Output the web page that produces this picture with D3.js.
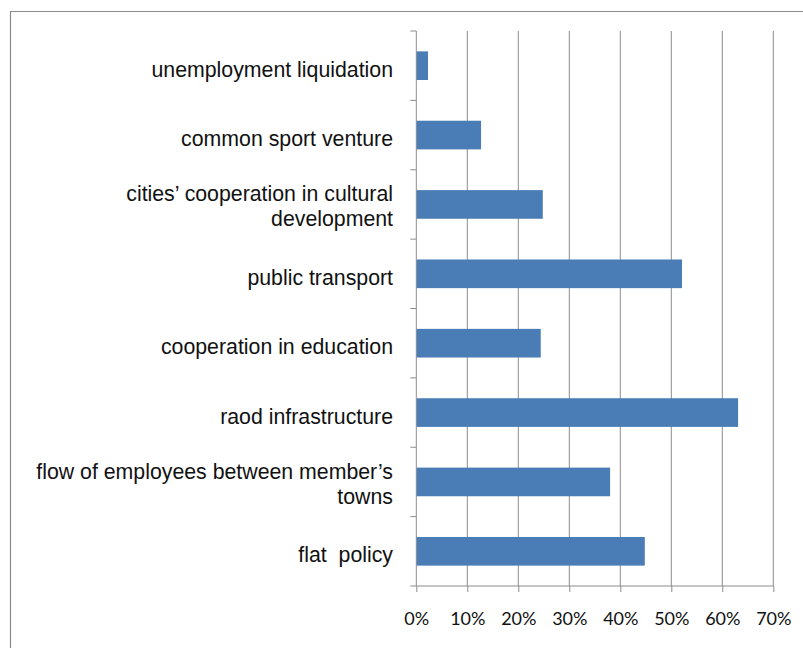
<!DOCTYPE html>
<html>
<head>
<meta charset="utf-8">
<script src="https://cdn.jsdelivr.net/npm/d3@7"></script>
<style>
  html, body { margin: 0; padding: 0; background: #fff; }
  svg { display: block; }
</style>
</head>
<body>
<svg id="chart" width="803" height="648"></svg>
<script>
// Areas of cooperation between member towns, share of answers (%)
const categories = [
  "unemployment liquidation",
  "common sport venture",
  "cities\u2019 cooperation in cultural\ndevelopment",
  "public transport",
  "cooperation in education",
  "raod infrastructure",
  "flow of employees between member\u2019s\ntowns",
  "flat  policy"
];
const shares = [2.3, 12.7, 24.8, 52.1, 24.4, 63.1, 38.0, 44.8];
const tickValues = [0, 10, 20, 30, 40, 50, 60, 70];
const tickLabels = ["0%", "10%", "20%", "30%", "40%", "50%", "60%", "70%"];

const svg = d3.select("#chart");

// outer frame (top and left edges)
svg.append("path")
  .attr("d", "M10.5,648 V11.5 H803")
  .attr("fill", "none")
  .attr("stroke", "#8a8a8a")
  .attr("stroke-width", 1.2);

const plot = { left: 416.3, right: 773.3, top: 31, bottom: 586 };

const x = d3.scaleLinear().domain([0, 70]).range([plot.left, plot.right]);
const y = d3.scaleBand()
  .domain(categories)
  .range([plot.top, plot.bottom])
  .paddingInner(0.587)
  .paddingOuter(0.2935);

const gridColor = "#8c8c8c";

// vertical gridlines
svg.append("g").selectAll("line")
  .data(tickValues.slice(1))
  .join("line")
  .attr("x1", d => x(d)).attr("x2", d => x(d))
  .attr("y1", plot.top).attr("y2", plot.bottom)
  .attr("stroke", gridColor).attr("stroke-width", 1);

// bars
svg.append("g").selectAll("rect")
  .data(shares)
  .join("rect")
  .attr("x", x(0))
  .attr("y", (d, i) => y(categories[i]))
  .attr("width", d => x(d) - x(0))
  .attr("height", y.bandwidth())
  .attr("fill", "#4a7cb5");

// value axis (bottom)
const xAxis = d3.axisBottom(x)
  .tickValues(tickValues)
  .tickFormat((d, i) => tickLabels[i])
  .tickSize(6)
  .tickPadding(20);
const gx = svg.append("g")
  .attr("transform", `translate(0,${plot.bottom})`)
  .call(xAxis);
gx.select(".domain").remove();
gx.selectAll(".tick line").attr("stroke", gridColor);
gx.selectAll(".tick text")
  .attr("fill", "#111")
  .style("font-family", "Lato, 'Open Sans', sans-serif")
  .style("font-size", "18px");
gx.append("line")
  .attr("x1", plot.left - 6).attr("x2", plot.right)
  .attr("y1", 0).attr("y2", 0)
  .attr("stroke", gridColor);

// category axis (left): line with ticks at band boundaries
const step = y.step();
const gy = svg.append("g");
gy.append("line")
  .attr("x1", plot.left).attr("x2", plot.left)
  .attr("y1", plot.top).attr("y2", plot.bottom)
  .attr("stroke", gridColor);
gy.selectAll("line.tk")
  .data(d3.range(categories.length))
  .join("line")
  .attr("class", "tk")
  .attr("x1", plot.left - 6).attr("x2", plot.left)
  .attr("y1", i => plot.top + i * step)
  .attr("y2", i => plot.top + i * step)
  .attr("stroke", gridColor);

// category labels, right aligned
const lineGap = 25;
const labels = svg.append("g")
  .style("font-family", "'Liberation Sans', Arial, sans-serif")
  .style("font-size", "21.3px")
  .attr("fill", "#111")
  .attr("text-anchor", "end");
categories.forEach(c => {
  const lines = c.split("\n");
  const cy = y(c) + y.bandwidth() / 2;
  const first = cy + 11 - (lines.length - 1) * (lineGap / 2 + 1.5);
  const t = labels.append("text").attr("x", 393).attr("y", first);
  lines.forEach((ln, k) => {
    t.append("tspan")
      .attr("x", 393)
      .attr("y", first + k * lineGap)
      .style("white-space", "pre")
      .text(ln);
  });
});
</script>
</body>
</html>
